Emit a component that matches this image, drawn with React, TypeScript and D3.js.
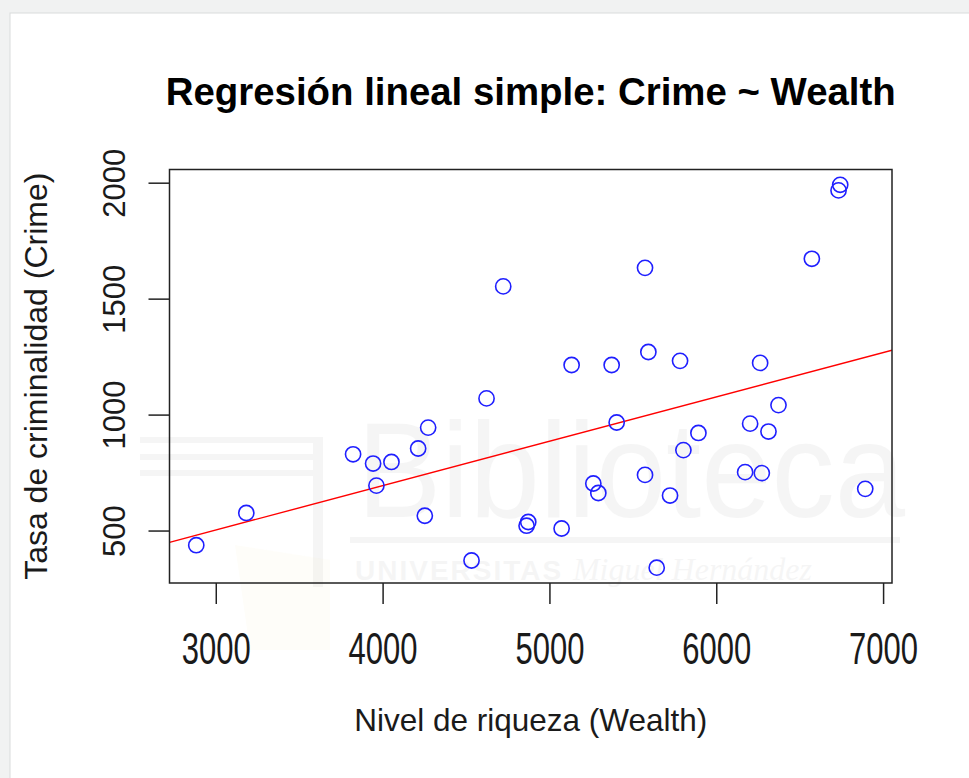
import React from 'react';
import * as d3 from 'd3';

// Wealth (x) and Crime (y)
const wealth = [
  2880, 3180, 3820, 3940, 4050, 3960, 4210, 4270, 4250, 4530,
  4620, 4720, 4860, 4870, 5070, 5130, 5260, 5290, 5370, 5400,
  5570, 5570, 5590, 5640, 5720, 5780, 5800, 5890, 6170, 6200,
  6260, 6270, 6310, 6370, 6570, 6730, 6740, 6890,
];
const crime = [
  439, 578, 831, 791, 798, 696, 856, 946, 566, 373,
  1072, 1555, 523, 539, 511, 1216, 705, 664, 1216, 968,
  1635, 742, 1272, 342, 653, 1234, 849, 923, 754, 963,
  1225, 750, 929, 1043, 1674, 1969, 1993, 682,
];
const xTicks = [3000, 4000, 5000, 6000, 7000];
const yTicks = [500, 1000, 1500, 2000];

// lm(Crime ~ Wealth) as drawn by abline
const intercept = -69;
const slope = 0.1913;

const W = 969;
const H = 778;
const plot = { left: 169.5, right: 892, top: 169.5, bottom: 583 };
const font = '"Liberation Sans", Arial, Helvetica, sans-serif';

// R pads the data range by 4% on each side
const pad = (ext: number[]) => {
  const d = (ext[1] - ext[0]) * 0.04;
  return [ext[0] - d, ext[1] + d];
};

const App = () => {
  const x = d3.scaleLinear()
    .domain(pad(d3.extent(wealth) as number[]))
    .range([plot.left, plot.right]);
  const y = d3.scaleLinear()
    .domain(pad(d3.extent(crime) as number[]))
    .range([plot.bottom, plot.top]);

  const [x0, x1] = x.domain();
  const fit = d3.line<number>()
    .x(d => x(d))
    .y(d => y(intercept + slope * d));

  const cx = (plot.left + plot.right) / 2;
  const cy = (plot.top + plot.bottom) / 2;
  const ink = '#222';

  return (
    <svg width={W} height={H} style={{ position: 'absolute', left: 0, top: 0 }}
      fontFamily={font}>
      <defs>
        <clipPath id="plotArea">
          <rect x={plot.left} y={plot.top}
            width={plot.right - plot.left} height={plot.bottom - plot.top} />
        </clipPath>
      </defs>

      {/* page frame */}
      <rect x={0} y={0} width={W} height={H} fill="#f1f2f2" />
      <rect x={10} y={13} width={W} height={H} fill="#fff" stroke="#d9dcdc" />

      {/* faint library watermark */}
      <g opacity={0.035}>
        {[440, 457, 473].map(v => (
          <rect key={v} x={140} y={v - 3} width={178} height={6} fill="#000" />
        ))}
        <rect x={313} y={437} width={10} height={150} fill="#000" />
        <text x={357} y={517} fontSize={136} textLength={548}
          lengthAdjust="spacingAndGlyphs" fill="#000">Biblioteca</text>
        <rect x={350} y={537} width={550} height={6} fill="#000" />
        <text x={355} y={580} fontSize={28} fill="#000">
          <tspan fontWeight="bold" letterSpacing={2}>UNIVERSITAS </tspan>
          <tspan fontFamily="Liberation Serif, serif" fontStyle="italic" fontSize={32}>
            Miguel Hernández
          </tspan>
        </text>
      </g>
      <path d="M235,545 L330,560 L330,650 L250,650 Z" fill="#f5e9c0" opacity={0.1} />

      {/* title */}
      <text x={cx} y={105} textAnchor="middle" fontSize={38.4} fontWeight="bold"
        fill="#000">
        Regresión lineal simple: Crime ~ Wealth
      </text>

      {/* regression line */}
      <path d={fit([x0, x1]) ?? ''} fill="none" stroke="#ff0000" strokeWidth={1.4}
        clipPath="url(#plotArea)" />

      {/* points */}
      {wealth.map((w, i) => (
        <circle key={i} cx={x(w)} cy={y(crime[i])} r={7.6} fill="none"
          stroke="#1f1fff" strokeWidth={1.6} />
      ))}

      {/* box */}
      <rect x={plot.left} y={plot.top} width={plot.right - plot.left}
        height={plot.bottom - plot.top} fill="none" stroke={ink} strokeWidth={1.5} />

      {/* x axis */}
      {xTicks.map(t => (
        <g key={t}>
          <line x1={x(t)} x2={x(t)} y1={plot.bottom} y2={plot.bottom + 21}
            stroke={ink} strokeWidth={1.5} />
          <text transform={`translate(${x(t)},664) scale(1,1.45)`} textAnchor="middle"
            fontSize={31} fill="#1a1a1a">{t}</text>
        </g>
      ))}

      {/* y axis */}
      {yTicks.map(t => (
        <g key={t}>
          <line x1={plot.left - 21} x2={plot.left} y1={y(t)} y2={y(t)}
            stroke={ink} strokeWidth={1.5} />
          <text transform={`translate(125,${y(t)}) rotate(-90)`} textAnchor="middle"
            fontSize={31} fill="#1a1a1a">{t}</text>
        </g>
      ))}

      {/* axis titles */}
      <text x={cx} y={731} textAnchor="middle" fontSize={31.5} fill="#1a1a1a">
        Nivel de riqueza (Wealth)
      </text>
      <text transform={`translate(46.5,${cy}) rotate(-90)`} textAnchor="middle"
        fontSize={32} fill="#1a1a1a">
        Tasa de criminalidad (Crime)
      </text>
    </svg>
  );
};

export default App;
